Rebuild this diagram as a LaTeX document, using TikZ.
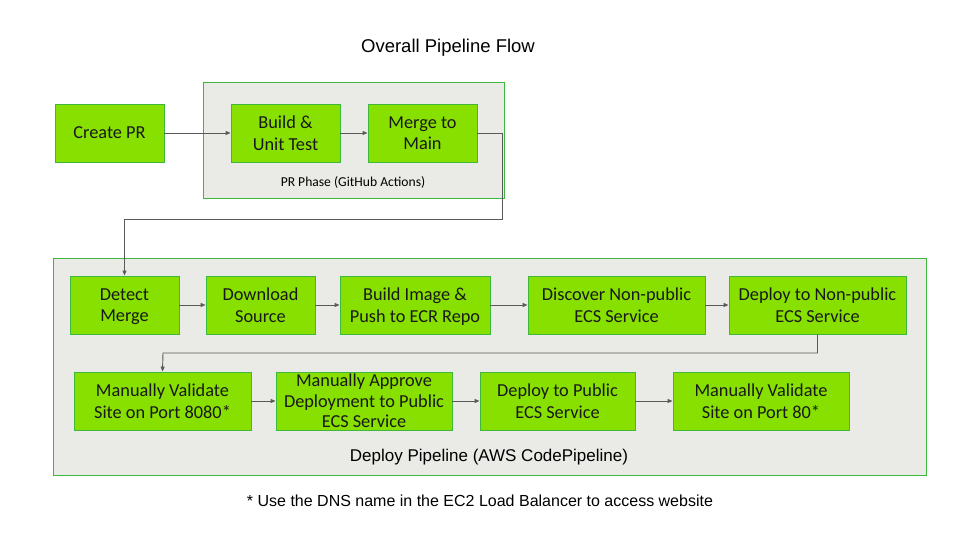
\documentclass[tikz,border=0pt]{standalone}
\usepackage{fontspec}
\setmainfont{Liberation Sans}
\newfontfamily\boxfont{Carlito}
\usetikzlibrary{arrows.meta}
\definecolor{boxfill}{HTML}{88E000}
\definecolor{boxline}{HTML}{3DB83D}
\definecolor{grpfill}{HTML}{EAEAE6}
\definecolor{conn}{HTML}{595959}
\tikzset{
  stepbox/.style={draw=boxline, fill=boxfill, line width=0.9pt, align=center, inner sep=0pt,
    font=\boxfont\fontsize{18.3}{21.5}\selectfont, text=black!90, text depth=0pt},
  grp/.style={draw=boxline, fill=grpfill, line width=0.9pt},
  conn/.style={draw=conn, line width=0.9pt, -{Triangle[length=5pt,width=4pt]}},
}
\begin{document}
\begin{tikzpicture}[x=1pt,y=-1pt]
\useasboundingbox (0,0) rectangle (960,540);
\node[font=\fontsize{18.5}{22}\selectfont] (title) at (448,48) {Overall Pipeline Flow};
% PR phase container
\draw[grp] (203,82) rectangle (504,198);
\node[font=\boxfont\fontsize{13.6}{16}\selectfont] (prlabel) at (353,182) {PR Phase (GitHub Actions)};
% Deploy container
\draw[grp] (53,258) rectangle (926,475);
\node[font=\fontsize{17}{20}\selectfont] (deplabel) at (489,457) {Deploy Pipeline (AWS CodePipeline)};
% boxes
\node[stepbox, minimum width=109, minimum height=58] (create) at (109.5,133) {Create PR};
\node[stepbox, minimum width=109, minimum height=58] (build) at (285.5,133) {Build \&\\Unit Test};
\node[stepbox, minimum width=109, minimum height=58] (merge) at (422.5,133) {Merge to\\Main};
\node[stepbox, minimum width=109, minimum height=58] (detect) at (124.5,305) {Detect\\Merge};
\node[stepbox, minimum width=109, minimum height=58] (download) at (260.5,305) {Download\\Source};
\node[stepbox, minimum width=150, minimum height=58] (image) at (415,305) {Build Image \&\\Push to ECR Repo};
\node[stepbox, minimum width=177, minimum height=58] (discover) at (616.5,305) {Discover Non-public\\ECS Service};
\node[stepbox, minimum width=177, minimum height=58] (deploynp) at (817.5,305) {Deploy to Non-public\\ECS Service};
\node[stepbox, minimum width=177, minimum height=58] (val8080) at (162.5,401) {Manually Validate\\Site on Port 8080*};
\node[stepbox, minimum width=176, minimum height=58, font=\boxfont\fontsize{18.3}{20.5}\selectfont] (approve) at (364,401) {Manually Approve\\Deployment to Public\\ECS Service};
\node[stepbox, minimum width=155, minimum height=58] (deploypub) at (557.5,401) {Deploy to Public\\ECS Service};
\node[stepbox, minimum width=176, minimum height=58] (val80) at (761,401) {Manually Validate\\Site on Port 80*};
% footnote
\node[font=\fontsize{16}{19}\selectfont] (foot) at (480,501) {* Use the DNS name in the EC2 Load Balancer to access website};
% connectors
\draw[conn] (create) -- (build);
\draw[conn] (build) -- (merge);
\coordinate (c1) at (502,219);
\draw[conn] (merge.east) -| (c1) -| (detect.north);
\draw[conn] (detect) -- (download);
\draw[conn] (download) -- (image);
\draw[conn] (image) -- (discover);
\draw[conn] (discover) -- (deploynp);
\coordinate (c2) at (163,353);
\draw[conn] (deploynp.south) |- (c2) -- (val8080.north);
\draw[conn] (val8080) -- (approve);
\draw[conn] (approve) -- (deploypub);
\draw[conn] (deploypub) -- (val80);
\end{tikzpicture}
\end{document}
